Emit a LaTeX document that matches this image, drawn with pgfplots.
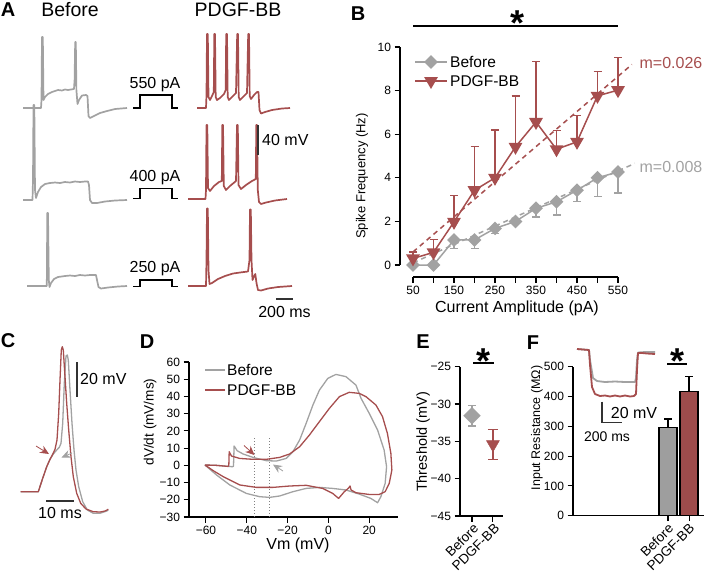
\documentclass[border=0pt]{standalone}
\usepackage{fontspec}
\setmainfont{Liberation Sans}
\usepackage{pgfplots}
\pgfplotsset{compat=1.18}
\usetikzlibrary{arrows.meta}
\newcommand{\fs}[1]{\fontsize{#1}{#1}\selectfont}
\definecolor{tgray}{RGB}{162,162,162}
\definecolor{tred}{RGB}{166,78,78}
\definecolor{bgray}{RGB}{158,158,158}
\definecolor{bred}{RGB}{158,76,76}
\definecolor{sbar}{RGB}{50,50,50}

\pgfplotstableread{
x y e
50 0 0
100 0 0
150 1.15 0.39
200 1.15 0.39
250 1.68 0.23
300 2.0 0.1
350 2.6 0.4
400 2.9 0.6
450 3.43 0.53
500 4.0 0.85
550 4.27 0.97
}\Bbefore
\pgfplotstableread{
x y e
50 0.3 0.3
100 0.58 0.6
150 1.98 1.2
200 3.43 2.0
250 4.0 2.2
300 5.42 2.34
350 6.56 2.78
400 5.31 0.87
450 5.65 1.22
500 7.76 1.13
550 8.02 1.5
}\Bpdgf

\begin{document}
\begin{tikzpicture}
\pgfplotsset{
  myaxis/.style={scale only axis, anchor=south west, clip=false,
    axis lines*=left, axis line style={line width=1.3pt, black},
    tick align=outside, major tick length=5.5pt,
    tick style={black, line width=1.1pt},
    ticklabel style={font=\fs{12}}},
}
% ---------------- overlay axis in pixel coordinates ----------------
\begin{axis}[at={(0pt,0pt)}, anchor=north west, scale only axis,
  width=704pt, height=573pt, xmin=0, xmax=704, ymin=0, ymax=573,
  y dir=reverse, hide axis, clip=false]
% panel letters
\node[font=\fs{20}\bfseries] at (axis cs:8,10) {A};
\node[font=\fs{20}\bfseries] at (axis cs:358,14) {B};
\node[font=\fs{20}\bfseries] at (axis cs:8,341) {C};
\node[font=\fs{20}\bfseries] at (axis cs:147,342) {D};
\node[font=\fs{20}\bfseries] at (axis cs:423,342) {E};
\node[font=\fs{20}\bfseries] at (axis cs:533,343) {F};
% A headings
\node[font=\fs{19.5}] at (axis cs:70,10) {Before};
\node[font=\fs{19.5}] at (axis cs:238,10) {PDGF-BB};
% A before traces
\addplot[tgray, line width=1.7pt, line join=round] coordinates {(23,108)(41,108)(41.5,100)(42,37)(42.8,37)(43.5,100)(45,97)(48,94)(52,92)(55,91)(58,90)(62,90.5)(65,89.5)(68,90)(71,89.5)(74,89)(74.6,80)(75.2,42)(75.8,42)(76.4,90)(77.5,104)(79,100)(82,95.5)(86,95)(87.5,96)(88.5,116)(90,118)(94,116)(100,113)(107,111)(115,109)(127,108)};
\addplot[tgray, line width=1.7pt, line join=round] coordinates {(23,200)(32.5,200)(33,180)(33.5,105)(34.3,105)(35,190)(36,198)(38,192)(41,187)(45,184)(50,183)(55,182.5)(60,183)(65,182)(70,182.5)(75,181.5)(80,182)(85,181.5)(88,181.5)(89,185)(90,200)(92,203)(97,203)(105,201.5)(115,200.5)(127,200)};
\addplot[tgray, line width=1.7pt, line join=round] coordinates {(27,286)(46.8,286)(47.3,213)(48,213)(48.8,280)(49.5,287)(51,283)(54,279)(58,277)(65,276)(70,275.5)(75,276)(80,275)(85,275.5)(90,275)(96,275)(97,280)(98.5,287)(101,288.5)(108,287.5)(118,286.5)(127,286)};
% A PDGF traces
\addplot[tred, line width=1.7pt, line join=round] coordinates {(197,108)(206,108)(206.5,95)(207,34)(207.8,34)(208.5,97)(210,100)(212,96)(213.8,92)(214.3,34)(215,34)(215.7,97)(217,100)(220,98)(224,94)(225.7,90)(226.2,34)(227,34)(227.7,97)(229,100)(232,97)(236,93)(237.2,34)(238,34)(238.7,97)(240,100)(243,97)(247,93)(248.2,34)(249,34)(249.7,96)(251,99)(254,95)(257,92)(258.5,92)(259.5,110)(261,113.5)(265,112)(272,110)(282,108.5)(290,108)};
\addplot[tred, line width=1.7pt, line join=round] coordinates {(188,199)(205.5,199)(206,190)(206.5,125)(207.3,125)(208,188)(210,191)(214,186)(219,182)(221.8,181)(222.3,125)(223,125)(223.8,186)(226,190)(230,186)(236,181)(237,125)(237.8,125)(238.5,185)(241,189)(246,185)(252,181)(255.8,179)(256.3,125)(257,125)(257.8,190)(259,202)(261,204)(266,202.5)(275,200.5)(287,199)};
\addplot[tred, line width=1.7pt, line join=round] coordinates {(188,286)(206,286)(206.5,260)(207,208.5)(207.8,208.5)(208.5,270)(209.5,284)(212,283)(218,279)(225,276)(233,273.5)(240,272.5)(248,271.5)(249.5,260)(250,209.5)(250.8,209.5)(251.5,260)(252.5,280)(254.2,276)(255.3,274)(256.5,283)(258,290)(261,290.5)(268,288.5)(278,287)(292,286)};
% current steps
\addplot[black, line width=1.3pt] coordinates {(133,108)(140,108)(140,95)(172,95)(172,108)(178,108)};
\addplot[black, line width=1.3pt] coordinates {(133,198.5)(140,198.5)(140,188.5)(172,188.5)(172,198.5)(178,198.5)};
\addplot[black, line width=1.3pt] coordinates {(133,286.5)(140,286.5)(140,280)(172,280)(172,286.5)(178,286.5)};
\node[font=\fs{16}] at (axis cs:155,85) {550 pA};
\node[font=\fs{16}] at (axis cs:155,178) {400 pA};
\node[font=\fs{16}] at (axis cs:155,269) {250 pA};
% A scale bars
\addplot[sbar, line width=1.8pt] coordinates {(258,125)(258,155)};
\node[font=\fs{16}, anchor=west, inner sep=0pt] at (axis cs:262,140) {40 mV};
\addplot[sbar, line width=1.8pt] coordinates {(276,299)(293,299)};
\node[font=\fs{16}] at (axis cs:284.5,312) {200 ms};
% C traces
\addplot[tgray, line width=1.3pt, line join=round] coordinates {(20.7,491.7)(38.3,491.7)(42.7,478.3)(46.7,466.7)(50,459.3)(53.3,454)(56.7,450)(59.3,447.3)(61,443.3)(62.7,423.3)(64.3,383.3)(66,356)(67.3,355)(68.3,360)(70,390)(72,423.3)(74,450)(76,470)(78.7,486.7)(82.7,501.7)(87.3,510)(93.3,513.3)(100,513.3)(106.7,511)(108.3,510)};
\addplot[tred, line width=1.3pt, line join=round] coordinates {(20.7,491.7)(38.3,491.7)(42.7,478.3)(46.7,466.7)(50,459.3)(52.7,454.3)(55,449.3)(57,440)(58.7,413.3)(60,380)(61.3,350)(62.3,346.7)(63.3,350)(65,376.7)(66.7,403.3)(68.7,430)(71,456.7)(73.3,476.7)(76.7,493.3)(80.7,503.3)(86,509)(93.3,511.7)(100,512)(105,511)(108.3,509.3)};
\draw[tred, line width=0.8pt, -{Stealth[length=9pt, width=8pt]}] (axis cs:36,446) -- (axis cs:49,454);
\draw[tgray, line width=0.8pt, -{Stealth[length=9pt, width=8pt]}] (axis cs:72,453) -- (axis cs:61.5,457.5);
\addplot[sbar, line width=1.8pt] coordinates {(77,362)(77,397)};
\node[font=\fs{16}, anchor=west, inner sep=0pt] at (axis cs:80,379) {20 mV};
\addplot[sbar, line width=1.8pt] coordinates {(46,501)(74,501)};
\node[font=\fs{16}] at (axis cs:60,513) {10 ms};
% D legend
\addplot[tgray, line width=1.3pt] coordinates {(205,370)(225,370)};
\node[font=\fs{15.5}, anchor=west, inner sep=0pt] at (axis cs:227,370) {Before};
\addplot[tred, line width=1.3pt] coordinates {(205,390)(225,390)};
\node[font=\fs{15.5}, anchor=west, inner sep=0pt] at (axis cs:227,390) {PDGF-BB};
% D arrows
\draw[tred, line width=0.8pt, -{Stealth[length=9pt, width=8pt]}] (axis cs:244,445.5) -- (axis cs:254.5,455);
\draw[tgray, line width=0.8pt, -{Stealth[length=9pt, width=8pt]}] (axis cs:283,471) -- (axis cs:273,464.5);
% axis labels
\node[font=\fs{13}, rotate=90] at (axis cs:362,176) {Spike Frequency (Hz)};
\node[font=\fs{16}] at (axis cs:517,308) {Current Amplitude (pA)};
\node[font=\fs{13.6}, rotate=90] at (axis cs:150,422) {dV/dt (mV/ms)};
\node[font=\fs{16}] at (axis cs:298,545) {Vm (mV)};
\node[font=\fs{14.5}, rotate=90] at (axis cs:423,442) {Threshold (mV)};
\node[font=\fs{12.5}, rotate=90] at (axis cs:537,428) {Input Resistance (MΩ)};
% rotated category labels of E and F
\node[font=\fs{13.5}, rotate=45, anchor=east, inner sep=0pt] at (axis cs:476,526) {Before};
\node[font=\fs{13.5}, rotate=45, anchor=east, inner sep=0pt] at (axis cs:497,526) {PDGF-BB};
\node[font=\fs{13.5}, rotate=45, anchor=east, inner sep=0pt] at (axis cs:671,526) {Before};
\node[font=\fs{13.5}, rotate=45, anchor=east, inner sep=0pt] at (axis cs:692,526) {PDGF-BB};
% B legend
\addplot[tgray, line width=1.5pt, mark=square*, mark size=4.1pt, mark options={rotate=45, fill=tgray, draw=tgray}, mark indices={2}] coordinates {(415,62)(431,62)(447,62)};
\node[font=\fs{15.5}, anchor=west, inner sep=0pt] at (axis cs:450,62) {Before};
\addplot[tred, line width=1.5pt, mark=triangle*, mark size=6.5pt, mark options={rotate=180, fill=tred, draw=tred}, mark indices={2}] coordinates {(415,81)(431,81)(447,81)};
\node[font=\fs{15.5}, anchor=west, inner sep=0pt] at (axis cs:450,81) {PDGF-BB};
\node[font=\fs{16}, text=tred] at (axis cs:671,63) {m=0.026};
\node[font=\fs{16}, text=tgray] at (axis cs:671,167) {m=0.008};
% significance
\addplot[black, line width=1.3pt] coordinates {(413,26)(618,26)};
\node[font=\fs{36}\bfseries, anchor=base] at (axis cs:517,35) {*};
\addplot[black, line width=1.3pt] coordinates {(473,363)(494,363)};
\node[font=\fs{36}\bfseries, anchor=base] at (axis cs:483.3,373) {*};
\addplot[black, line width=1.3pt] coordinates {(667,364)(687,364)};
\node[font=\fs{36}\bfseries, anchor=base] at (axis cs:677,373) {*};
% F inset
\addplot[tgray, line width=1.8pt, line join=round] coordinates {(577,349)(589,350)(590,360)(593,378)(597,381)(605,382)(615,381.5)(625,382)(635,382)(636,378)(637,360)(638,352.5)(645,352)(655,352)};
\addplot[tred, line width=1.8pt, line join=round] coordinates {(577,349)(589,350)(590,365)(592,387)(595,394)(600,396)(605,395.5)(610,396.5)(615,395.5)(620,396.5)(625,395.5)(630,396.5)(634,396)(636,394)(637,370)(638,353)(642,353)(647,353.5)(655,354)};
\addplot[sbar, line width=1.5pt] coordinates {(602,401.7)(602,422.7)(622,422.7)};
\node[font=\fs{16}] at (axis cs:634,413) {20 mV};
\node[font=\fs{14}] at (axis cs:607,437) {200 ms};
\end{axis}

% ---------------- B ----------------
\begin{axis}[myaxis, at={(400pt,-277pt)}, width=218pt, height=230pt,
  xmin=18.3, xmax=550, ymin=-0.55, ymax=10,
  axis line style={draw=none},
  xtick={50,100,...,550}, xticklabels={50,,150,,250,,350,,450,,550},
  ytick={0,2,...,10}, yticklabels={0,2,4,6,8,10}]
\draw[black, line width=1.3pt] (axis cs:18.3,0) -- (axis cs:18.3,10);
\draw[black, line width=1.3pt] (axis cs:50,-0.55) -- (axis cs:550,-0.55);
\addplot[tred, line width=1.5pt, dash pattern=on 5pt off 4pt] coordinates {(50,0.6)(584,9.2)};
\addplot[tgray, line width=1.5pt, dash pattern=on 5pt off 4pt] coordinates {(50,0.1)(591,4.66)};
\addplot[tgray, line width=1.5pt, mark=square*, mark size=4.1pt,
  mark options={rotate=45, fill=tgray, draw=tgray},
  error bars/.cd, y dir=minus, y explicit,
  error bar style={line width=1.4pt, tgray},
  error mark options={rotate=90, mark size=4pt, line width=1.4pt, tgray}]
  table[x=x, y=y, y error=e] {\Bbefore};
\addplot[tred, line width=1.5pt, mark=triangle*, mark size=6.5pt,
  mark options={rotate=180, fill=tred, draw=tred},
  error bars/.cd, y dir=plus, y explicit,
  error bar style={line width=1.4pt, tred},
  error mark options={rotate=90, mark size=4pt, line width=1.4pt, tred}]
  table[x=x, y=y, y error=e] {\Bpdgf};
\end{axis}

% ---------------- D ----------------
\begin{axis}[myaxis, at={(189pt,-517pt)}, width=209pt, height=155pt,
  xmin=-68.3, xmax=34.1, ymin=-30, ymax=60,
  xtick={-60,-40,...,20}, xticklabels={−60,−40,−20,0,20},
  ytick={-30,-20,...,60}, yticklabels={−30,−20,−10,0,10,20,30,40,50,60}]
\addplot[gray, line width=0.7pt, dash pattern=on 1pt off 2pt] coordinates {(-36.1,15.7)(-36.1,-30)};
\addplot[gray, line width=0.7pt, dash pattern=on 1pt off 2pt] coordinates {(-28.8,15.7)(-28.8,-30)};
\addplot[tgray, line width=1.3pt, line join=round] coordinates {(-60.5,0.2)(-55,0)(-47,-0.8)(-46.5,-0.5)(-46.2,11.2)(-44.7,8.5)(-41.8,6.6)(-36.9,4.6)(-30.4,2.7)(-25.5,2.5)(-20.7,4.0)(-17.4,7.9)(-14.1,14.7)(-10.9,24.4)(-7.6,35.0)(-4.4,43.7)(-0.3,50.5)(3.7,52.8)(8.6,51.5)(13.5,46.6)(16.0,38.9)(20.0,30.2)(24.1,20.5)(27.3,8.9)(28.5,-0.8)(27.8,-10.5)(25.7,-18.2)(24.1,-21.7)(20.8,-19.2)(15.1,-16.7)(8.6,-14.3)(2.1,-13.4)(-4.4,-12.8)(-10.9,-13.4)(-17.4,-15.3)(-23.9,-17.8)(-28.8,-18.6)(-33.7,-18.2)(-40.2,-16.3)(-48.3,-11.4)(-54.8,-5.6)(-60.5,0.2)};
\addplot[tred, line width=1.3pt, line join=round] coordinates {(-60.5,0.2)(-55,0)(-49.3,-0.6)(-48.8,-0.3)(-48.6,7.9)(-47.5,5.4)(-43.4,4.0)(-36.9,3.5)(-30.4,3.5)(-23.9,4.6)(-19.0,6.6)(-14.1,10.8)(-9.3,17.6)(-4.4,25.4)(0.5,33.1)(5.4,39.9)(10.2,42.4)(15.1,41.8)(18.4,39.9)(23.3,35.0)(26.5,28.3)(28.9,18.6)(30.6,7.0)(31.1,-2.7)(29.8,-10.5)(27.8,-15.3)(24.9,-16.9)(20.0,-16.9)(13.5,-15.9)(11.1,-14.3)(10.6,-12.0)(9.8,-13.3)(7.8,-15.3)(5.0,-19.2)(2.1,-16.3)(-2.8,-13.4)(-10.9,-11.6)(-19.0,-12.0)(-27.2,-12.8)(-35.3,-12.8)(-43.4,-11.4)(-51.5,-6.6)(-56.4,-3.1)(-60.5,0.2)};
\end{axis}

% ---------------- E ----------------
\begin{axis}[myaxis, at={(460pt,-516pt)}, width=43pt, height=149.3pt,
  xmin=0.43, xmax=2.48, ymin=-45, ymax=-25,
  xtick={1,2}, xticklabels={},
  ytick={-45,-40,...,-25}, yticklabels={−45,−40,−35,−30,−25}]
\addplot[only marks, mark=square*, mark size=5.9pt,
  mark options={rotate=45, fill=tgray, draw=tgray},
  error bars/.cd, y dir=both, y explicit,
  error bar style={line width=1.4pt, tgray},
  error mark options={rotate=90, mark size=4pt, line width=1.4pt, tgray}]
  coordinates {(1,-31.57) +- (0,1.35)};
\addplot[only marks, mark=triangle*, mark size=7.5pt,
  mark options={rotate=180, fill=tred, draw=tred},
  error bars/.cd, y dir=both, y explicit,
  error bar style={line width=1.4pt, tred},
  error mark options={rotate=90, mark size=5pt, line width=1.4pt, tred}]
  coordinates {(2,-35.4) +- (0,2.0)};
\end{axis}

% ---------------- F ----------------
\begin{axis}[myaxis, at={(573pt,-515.7pt)}, width=131pt, height=149pt,
  xmin=-3.52, xmax=2.71, ymin=0, ymax=500,
  xtick={1,2}, xticklabels={},
  ytick={0,100,...,500}, yticklabels={0,100,200,300,400,500}]
\addplot[ybar, bar width=18pt, bar shift=0pt, fill=bgray, draw=black, line width=1.2pt,
  error bars/.cd, y dir=plus, y explicit,
  error bar style={line width=1.3pt, black},
  error mark options={rotate=90, mark size=4pt, line width=1.3pt, black}]
  coordinates {(1,295) +- (0,30)};
\addplot[ybar, bar width=18pt, bar shift=0pt, fill=bred, draw=black, line width=1.2pt,
  error bars/.cd, y dir=plus, y explicit,
  error bar style={line width=1.3pt, black},
  error mark options={rotate=90, mark size=4pt, line width=1.3pt, black}]
  coordinates {(2,417) +- (0,49)};
\end{axis}

\pgfresetboundingbox
\path[use as bounding box] (0pt,0pt) rectangle (704pt,-573pt);
\end{tikzpicture}
\end{document}
